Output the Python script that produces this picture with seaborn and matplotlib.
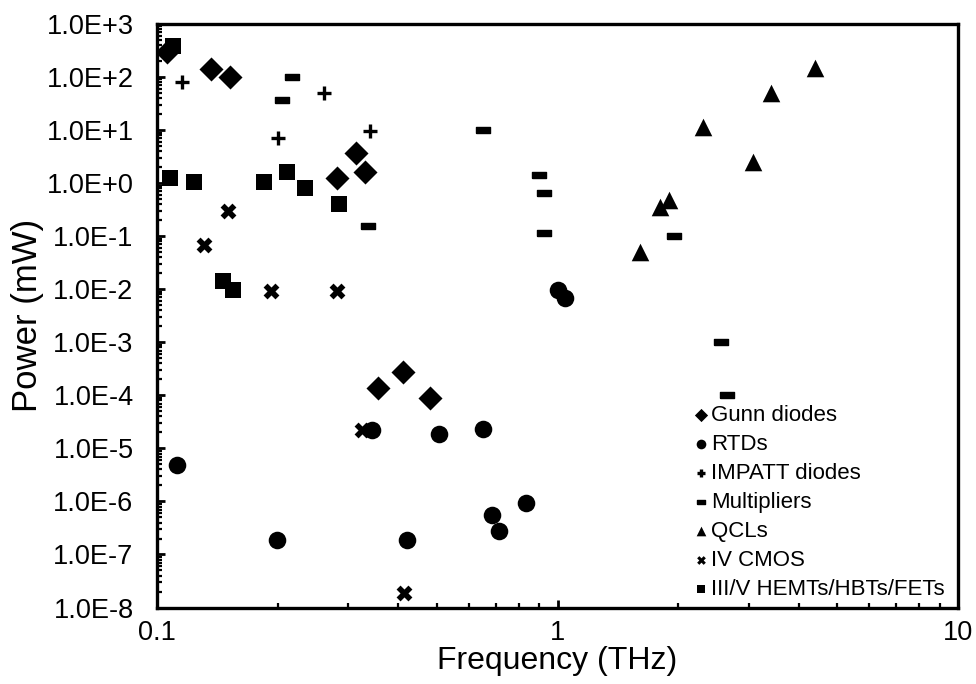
import matplotlib
matplotlib.use("Agg")
import matplotlib.pyplot as plt
from matplotlib.ticker import LogLocator, FuncFormatter, NullFormatter
import numpy as np
import pandas as pd
import seaborn as sns

# Output power of terahertz sources (frequency in THz, power in mW)
gunn_f = [0.106, 0.136, 0.152, 0.281, 0.314, 0.331, 0.356, 0.411, 0.481]
gunn_p = [300, 139, 102, 1.27, 3.76, 1.65, 1.4e-4, 2.7e-4, 9.0e-5]

rtd_f = [0.112, 0.199, 0.344, 0.421, 0.506, 0.652, 0.686, 0.714, 0.834, 1.003, 1.044]
rtd_p = [4.9e-6, 1.9e-7, 2.2e-5, 1.9e-7, 1.9e-5, 2.3e-5, 5.6e-7, 2.8e-7, 9.4e-7, 9.8e-3, 6.9e-3]

impatt_f = [0.1155, 0.200, 0.261, 0.340]
impatt_p = [82, 7.2, 51, 9.8]

mult_f = [0.217, 0.205, 0.336, 0.652, 0.899, 0.925, 0.925, 1.954, 2.56, 2.65]
mult_p = [102, 37.6, 0.158, 10.2, 1.45, 0.66, 0.116, 0.102, 1.02e-3, 1.02e-4]

qcl_f = [1.607, 1.803, 1.898, 2.31, 3.08, 3.41, 4.40]
qcl_p = [0.051, 0.36, 0.49, 11.6, 2.55, 51, 145]

cmos_f = [0.150, 0.131, 0.193, 0.281, 0.325, 0.414]
cmos_p = [0.30, 0.069, 9.4e-3, 9.4e-3, 2.2e-5, 1.9e-8]

hemt_f = [0.1096, 0.1078, 0.1237, 0.185, 0.211, 0.234, 0.285, 0.146, 0.155]
hemt_p = [393, 1.27, 1.07, 1.07, 1.65, 0.82, 0.41, 0.0145, 0.0098]

labels = ["Gunn diodes", "RTDs", "IMPATT diodes", "Multipliers", "QCLs",
          "IV CMOS", "III/V HEMTs/HBTs/FETs"]

sns.set_style("ticks")
plt.rcParams["font.family"] = ["Liberation Sans", "DejaVu Sans"]
plt.rcParams["text.color"] = "black"
plt.rcParams["axes.labelcolor"] = "black"
plt.rcParams["xtick.color"] = "black"
plt.rcParams["ytick.color"] = "black"

# short rounded bar used for the multiplier points
bar = [(-1.0, -0.42), (1.0, -0.42), (1.0, 0.42), (-1.0, 0.42), (-1.0, -0.42)]

series = [
    (gunn_f, gunn_p, "D", 150, 0.0),
    (rtd_f, rtd_p, "o", 160, 0.0),
    (impatt_f, impatt_p, "+", 100, 2.4),
    (mult_f, mult_p, bar, 100, 1.0),
    (qcl_f, qcl_p, "^", 160, 0.0),
    (cmos_f, cmos_p, "X", 130, 0.0),
    (hemt_f, hemt_p, "s", 135, 0.0),
]

fig = plt.figure(figsize=(9.76, 6.84), dpi=100)
ax = fig.add_axes([0.161, 0.1118, 0.8206, 0.8531])

for (f, p, m, s, lw), lab in zip(series, labels):
    df = pd.DataFrame({"Frequency": f, "Power": p})
    sns.scatterplot(data=df, x="Frequency", y="Power", marker=m, s=s,
                    color="black", edgecolor="black", linewidth=lw,
                    label=lab, ax=ax, zorder=3)

ax.set_xscale("log")
ax.set_yscale("log")
ax.set_xlim(0.1, 10)
ax.set_ylim(1e-8, 1e3)

ax.xaxis.set_major_locator(LogLocator(base=10, numticks=10))
ax.xaxis.set_minor_locator(LogLocator(base=10, subs=np.arange(2, 10), numticks=20))
ax.xaxis.set_major_formatter(FuncFormatter(lambda v, _: f"{v:g}"))
ax.xaxis.set_minor_formatter(NullFormatter())

ax.yaxis.set_major_locator(LogLocator(base=10, numticks=20))
ax.yaxis.set_minor_locator(LogLocator(base=10, subs=np.arange(2, 10), numticks=40))
ax.yaxis.set_major_formatter(
    FuncFormatter(lambda v, _: f"1.0E{int(round(np.log10(v))):+d}"))
ax.yaxis.set_minor_formatter(NullFormatter())

for sp in ax.spines.values():
    sp.set_visible(True)
    sp.set_linewidth(2.4)
    sp.set_color("black")

ax.tick_params(which="major", direction="in", length=6, width=2.0,
               labelsize=19.5, pad=17)
ax.tick_params(axis="x", which="major", pad=9)
ax.tick_params(which="minor", direction="in", length=3.5, width=1.6)
ax.tick_params(top=False, right=False, which="both")

ax.set_xlabel("Frequency (THz)", fontsize=23, labelpad=0)
ax.set_ylabel("Power (mW)", fontsize=25, labelpad=2)

ax.legend(loc="lower right", bbox_to_anchor=(1.0, -0.01), frameon=False,
          fontsize=16, markerscale=0.55, handlelength=0.6, handletextpad=0.15,
          labelspacing=0.36, borderaxespad=0.2)

fig.savefig("out.png", dpi=100, facecolor="white")
